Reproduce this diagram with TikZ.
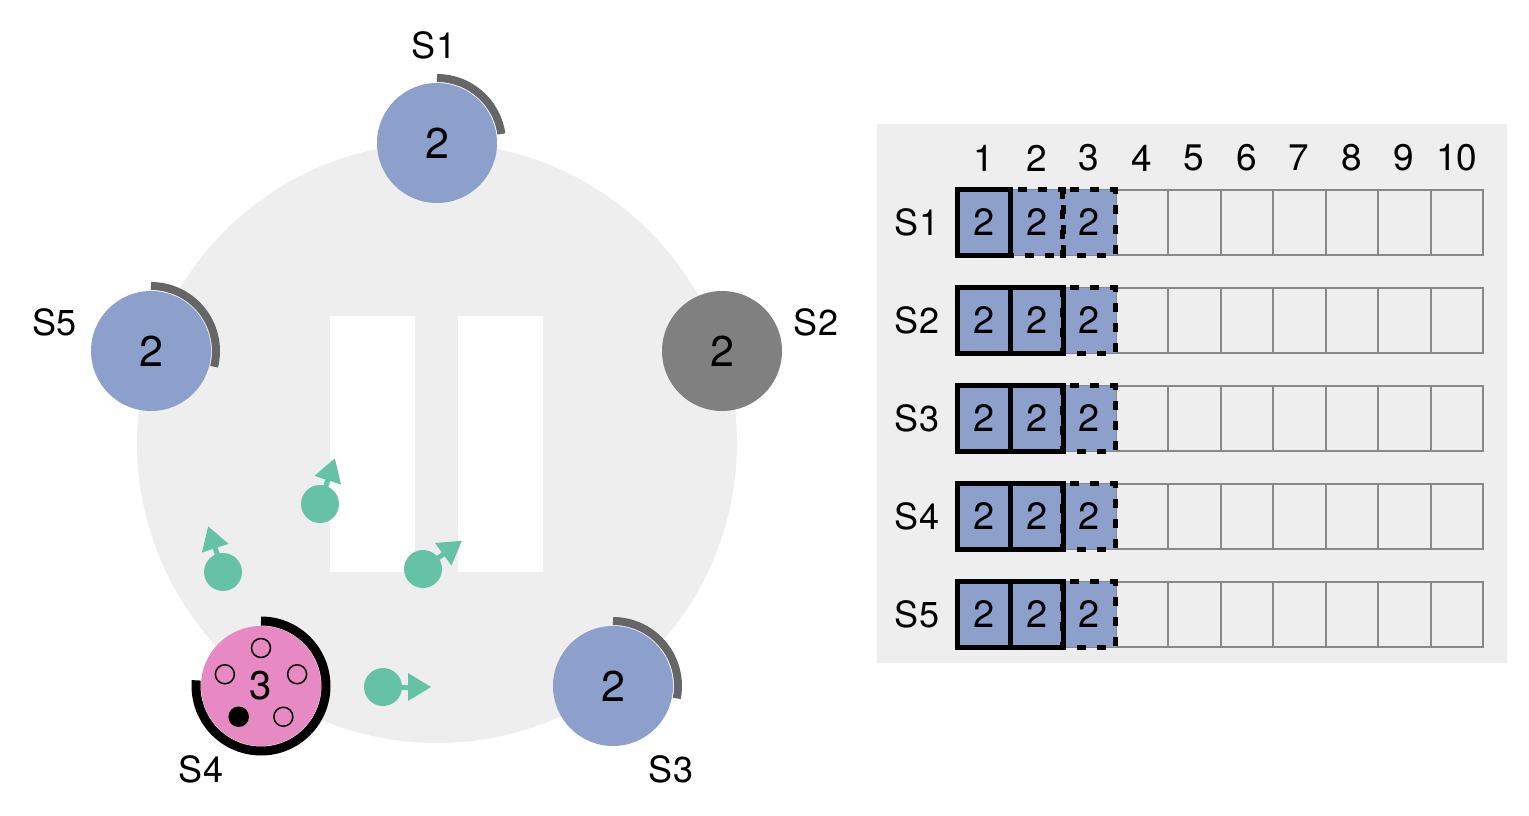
\documentclass[tikz,border=0pt]{standalone}
\usepackage{fontspec}
\setmainfont{TeX Gyre Heros}
\usetikzlibrary{calc}
\definecolor{ringgray}{HTML}{EEEEEE}
\definecolor{follower}{HTML}{8DA0CB}
\definecolor{candidate}{HTML}{E78AC3}
\definecolor{msggreen}{HTML}{66C2A5}
\definecolor{timergray}{HTML}{666666}
\definecolor{downgray}{HTML}{808080}
\definecolor{cellgray}{HTML}{888888}
\newcommand\msgtip[2]{%
  \draw[msggreen, line width=5pt] (#1.center) -- ($(#1.center)+(#2:30pt)$);
  \fill[msggreen] ($(#1.center)+(#2:48pt)$) -- ($(#1.center)+(#2:25pt)+({#2+90}:14pt)$) -- ($(#1.center)+(#2:25pt)+({#2-90}:14pt)$) -- cycle;}
\begin{document}
\begin{tikzpicture}[x=1pt,y=-1pt,
  server/.style={circle, minimum size=120pt, inner sep=0pt, font=\fontsize{43}{48}\selectfont},
  srvlabel/.style={font=\fontsize{36}{40}\selectfont, inner sep=0pt},
  timer/.style={draw=timergray, line width=8pt},
  msgdot/.style={circle, fill=msggreen, minimum size=38pt, inner sep=0pt},
  vote/.style={circle, draw=black, line width=1.5pt, minimum size=19pt, inner sep=0pt},
  logcell/.style={draw=cellgray, line width=2pt, minimum width=52.5pt, minimum height=65pt, inner sep=0pt},
  entry/.style={fill=follower, minimum width=52.5pt, minimum height=65pt, inner sep=0pt, font=\fontsize{38}{42}\selectfont},
  solidborder/.style={draw=black, line width=5pt},
  dashborder/.style={draw=black, line width=5pt, dash pattern=on 9pt off 11pt},
  hdr/.style={font=\fontsize{37}{40}\selectfont, inner sep=0pt},
]
\useasboundingbox (0,0) rectangle (1529,816);
% ring and pause icon
\fill[ringgray] (437,443) circle (300pt);
\fill[white] (330,316) rectangle (415,572);
\fill[white] (458,316) rectangle (543,572);
% server centres
\coordinate (c1) at (437,143);
\coordinate (c2) at (722,351);
\coordinate (c3) at (613,686);
\coordinate (c4) at (261,686);
\coordinate (c5) at (151,351);
% timers
\draw[timer] (c1) ++(90:65pt) arc[start angle=90, end angle=8, radius=65pt];
\draw[timer] (c5) ++(90:65pt) arc[start angle=90, end angle=-14, radius=65pt];
\draw[timer] (c3) ++(90:65pt) arc[start angle=90, end angle=-11, radius=65pt];
\draw[black, line width=9pt] (c4) ++(90:65pt) arc[start angle=90, end angle=-185, radius=65pt];
% messages
\node[msgdot] (m1) at (223,572) {};
\node[msgdot] (m2) at (320,504) {};
\node[msgdot] (m3) at (423,569) {};
\node[msgdot] (m4) at (383,687) {};
\msgtip{m1}{108}
\msgtip{m2}{72}
\msgtip{m3}{36}
\msgtip{m4}{0}
% servers
\node[server, fill=follower] (s1) at (c1) {2};
\node[server, fill=downgray] (s2) at (c2) {2};
\node[server, fill=follower] (s3) at (c3) {2};
\node[server, fill=candidate, font=\fontsize{40}{44}\selectfont] (s4) at (c4) {3};
\node[server, fill=follower] (s5) at (c5) {2};
% votes
\node[vote] (v1) at ($(c4)+(90:38pt)$) {};
\node[vote] (v2) at ($(c4)+(18:38pt)$) {};
\node[vote] (v3) at ($(c4)+(-54:38pt)$) {};
\node[vote, fill=black] (v4) at ($(c4)+(-126:38pt)$) {};
\node[vote] (v5) at ($(c4)+(162:38pt)$) {};
% labels
\node[srvlabel] (l1) at (434,45) {S1};
\node[srvlabel] (l2) at (816,322) {S2};
\node[srvlabel] (l3) at (671,769) {S3};
\node[srvlabel] (l4) at (201,769) {S4};
\node[srvlabel] (l5) at (55,322) {S5};
% log
\fill[ringgray] (877,124) rectangle (1507,663);
\foreach \c in {1,...,10} {
  \node[hdr] (h\c) at ({958+(\c-0.5)*52.5},158) {\c};
}
\foreach \r in {1,...,5} {
  \node[srvlabel] (rl\r) at (917,{190+(\r-1)*98+32.5}) {S\r};
  \foreach \c in {1,...,10} {
    \node[logcell] (cell-\r-\c) at ({958+(\c-0.5)*52.5},{190+(\r-1)*98+32.5}) {};
  }
}
% entries
\foreach \r in {1,...,5} {
  \foreach \c in {1,2,3} {
    \node[entry] (e-\r-\c) at (cell-\r-\c) {2};
  }
}
\draw[dashborder] (e-1-2.north west) rectangle (e-1-2.south east);
\draw[dashborder] (e-1-3.north west) rectangle (e-1-3.south east);
\draw[solidborder] (e-1-1.north west) rectangle (e-1-1.south east);
\foreach \r in {2,...,5} {
  \draw[dashborder] (e-\r-3.north west) rectangle (e-\r-3.south east);
  \draw[solidborder] (e-\r-1.north west) rectangle (e-\r-1.south east);
  \draw[solidborder] (e-\r-2.north west) rectangle (e-\r-2.south east);
}
\end{tikzpicture}
\end{document}
